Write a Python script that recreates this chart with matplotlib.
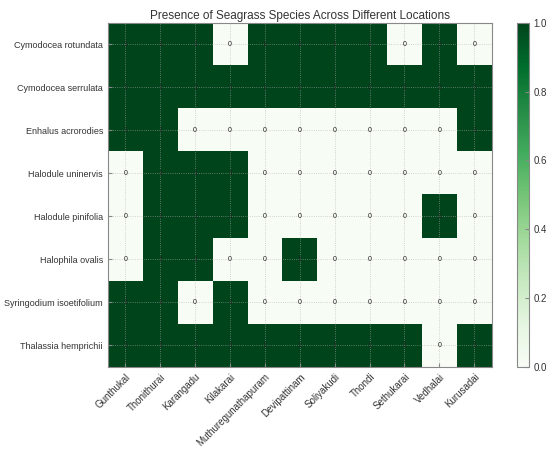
import matplotlib
matplotlib.use("Agg")
import matplotlib.pyplot as plt
import numpy as np

locations = ["Gunthukal", "Thonithurai", "Karangadu", "Kilakarai",
             "Muthuregunathapuram", "Devipattinam", "Soliyakudi", "Thondi",
             "Sethukarai", "Vedhalai", "Kurusadai"]
species = ["Cymodocea rotundata", "Cymodocea serrulata", "Enhalus acrorodies",
           "Halodule uninervis", "Halodule pinifolia", "Halophila ovalis",
           "Syringodium isoetifolium", "Thalassia hemprichii"]

cymodocea_rotundata = [1, 1, 1, 0, 1, 1, 1, 1, 0, 1, 0]
cymodocea_serrulata = [1, 1, 1, 1, 1, 1, 1, 1, 1, 1, 1]
enhalus_acrorodies = [1, 1, 0, 0, 0, 0, 0, 0, 0, 0, 1]
halodule_uninervis = [0, 1, 1, 1, 0, 0, 0, 0, 0, 0, 0]
halodule_pinifolia = [0, 1, 1, 1, 0, 0, 0, 0, 0, 1, 0]
halophila_ovalis = [0, 1, 1, 0, 0, 1, 0, 0, 0, 0, 0]
syringodium_isoetifolium = [1, 1, 0, 1, 0, 0, 0, 0, 0, 0, 0]
thalassia_hemprichii = [1, 1, 1, 1, 1, 1, 1, 1, 1, 0, 1]

presence = np.array([cymodocea_rotundata, cymodocea_serrulata, enhalus_acrorodies,
                     halodule_uninervis, halodule_pinifolia, halophila_ovalis,
                     syringodium_isoetifolium, thalassia_hemprichii])

plt.rcParams["font.family"] = ["Liberation Sans", "DejaVu Sans"]

fig = plt.figure(figsize=(5.47, 4.57), dpi=100)
ax = fig.add_axes([0.197, 0.197, 0.702, 0.753])
cax = fig.add_axes([0.945, 0.197, 0.022, 0.753])

im = ax.imshow(presence, cmap="Greens", aspect="auto", vmin=0, vmax=1,
               interpolation="nearest")

for i in range(len(species)):
    for j in range(len(locations)):
        ax.text(j, i, str(presence[i, j]), ha="center", va="center",
                fontsize=5, color="#222222")

ax.set_xticks(range(len(locations)))
ax.set_xticklabels(locations, rotation=45, ha="right", rotation_mode="anchor",
                   fontsize=7, color="#333333")
ax.set_yticks(range(len(species)))
ax.set_yticklabels(species, fontsize=6.5, color="#333333")
ax.tick_params(direction="in", length=3, color="#888888")
ax.grid(True, color="#b0b0b0", linestyle=":", linewidth=0.6, alpha=0.7)
for s in ax.spines.values():
    s.set_color("#888888")
ax.set_title("Presence of Seagrass Species Across Different Locations",
             fontsize=8.5, color="#333333", pad=3)

cb = fig.colorbar(im, cax=cax)
cb.set_ticks([0.0, 0.2, 0.4, 0.6, 0.8, 1.0])
cb.ax.tick_params(direction="in", length=3, labelsize=7, color="#888888",
                  labelcolor="#333333")
cb.outline.set_edgecolor("#888888")

fig.savefig("out.png", dpi=100)
